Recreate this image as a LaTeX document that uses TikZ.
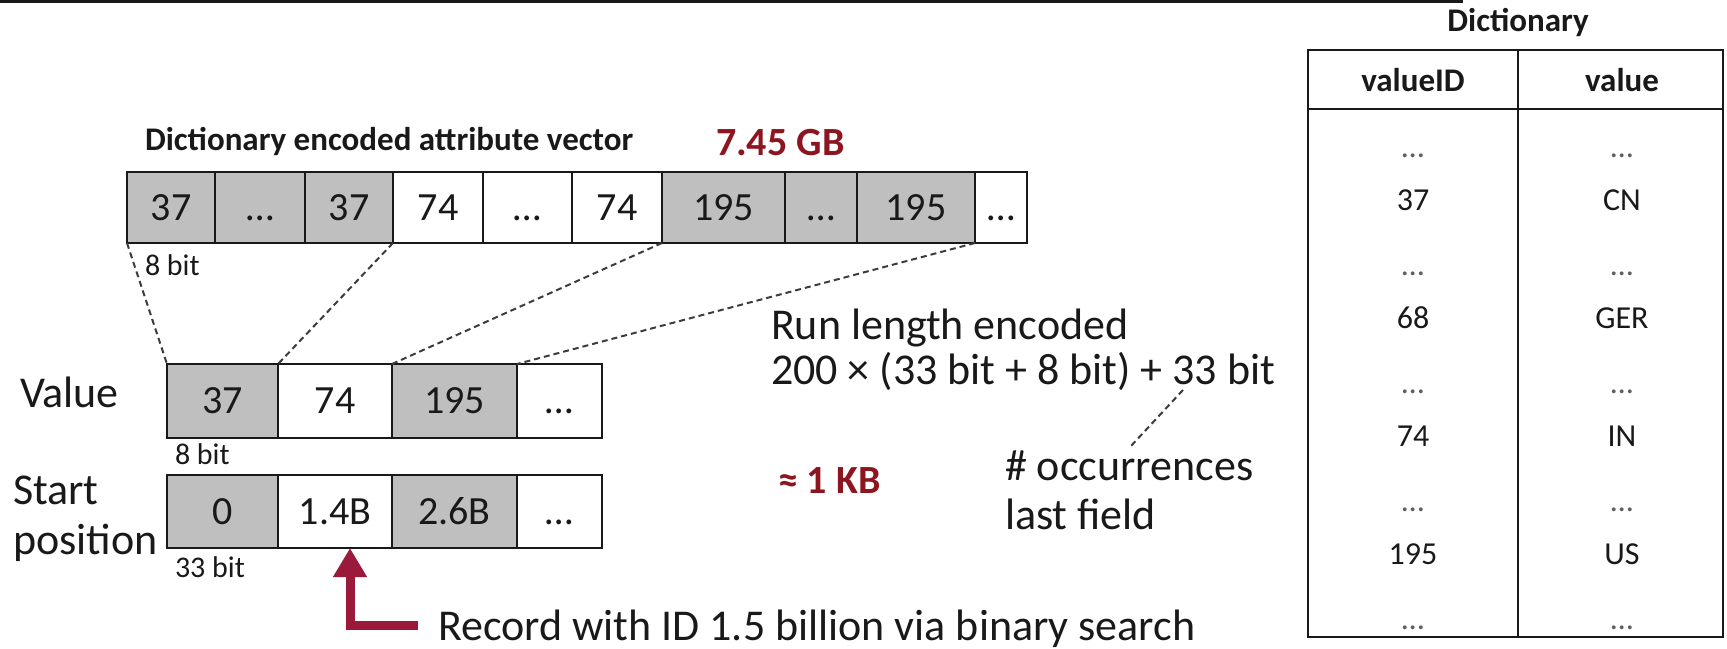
\documentclass[tikz,border=0pt]{standalone}
\usepackage{fontspec}
\setmainfont{Carlito}
\usetikzlibrary{arrows.meta}
\definecolor{cellgray}{RGB}{191,191,191}
\definecolor{darkred}{RGB}{140,22,32}
\definecolor{arrowred}{RGB}{155,26,60}
\definecolor{ink}{RGB}{25,25,25}
\begin{document}
\begin{tikzpicture}[x=1pt,y=-1pt,
  every node/.style={inner sep=0pt, outer sep=0pt, text=ink},
  fs/.style={font=\fontsize{#1}{#1}\selectfont},
  fsb/.style={font=\fontsize{#1}{#1}\selectfont\bfseries},
  wcell/.style={draw=ink, line width=2.5pt, fill=white, fs=40, text height=25pt, text depth=0pt, minimum height=71pt},
  gcell/.style={wcell, fill=cellgray},
  lbl/.style={anchor=base west, fs=44},
  small/.style={anchor=base west, fs=30},
  redlbl/.style={anchor=base west, fsb=40, text=darkred},
  dashline/.style={draw=ink!85, line width=2pt, dash pattern=on 6pt off 4pt},
  tabline/.style={draw=ink, line width=2pt},
  tabtxt/.style={fs=32, text height=20pt, text depth=0pt, anchor=center},
  tabdots/.style={tabtxt, text=ink!70},
  tabhead/.style={fsb=33, text height=21pt, text depth=0pt, anchor=center},
  recarrow/.style={draw=arrowred, line width=9pt, -{Triangle[width=32pt,length=29pt]}}
]
\useasboundingbox (0,0) rectangle (1727,648);

% top frame remnant
\draw[line width=3pt, ink] (0,1.5) -- (1461,1.5) -- (1461,0);

% title of attribute vector
\node[anchor=base west, fsb=33] (avtitle) at (145,150) {Dictionary encoded attribute vector};
\node[redlbl] (size1) at (716,155) {7.45 GB};

% attribute vector
\node[gcell, minimum width=88pt]  (t1)  at (171,207.5)   {37};
\node[gcell, minimum width=90pt]  (t2)  at (260,207.5)   {…};
\node[gcell, minimum width=88pt]  (t3)  at (349,207.5)   {37};
\node[wcell, minimum width=90pt]  (t4)  at (438,207.5)   {74};
\node[wcell, minimum width=89pt]  (t5)  at (527.5,207.5) {…};
\node[wcell, minimum width=90pt]  (t6)  at (617,207.5)   {74};
\node[gcell, minimum width=123pt] (t7)  at (723.5,207.5) {195};
\node[gcell, minimum width=72pt]  (t8)  at (821,207.5)   {…};
\node[gcell, minimum width=118pt] (t9)  at (916,207.5)   {195};
\node[wcell, minimum width=52pt]  (t10) at (1001,207.5)  {…};
\node[small] (bit8a) at (145,275) {8 bit};

% value vector
\node[gcell, minimum width=111pt, minimum height=74pt] (v1) at (222.5,401) {37};
\node[wcell, minimum width=114pt, minimum height=74pt] (v2) at (335,401)   {74};
\node[gcell, minimum width=125pt, minimum height=74pt] (v3) at (454.5,401) {195};
\node[wcell, minimum width=85pt,  minimum height=74pt] (v4) at (559.5,401) {…};
\node[lbl] (vallbl) at (20,407) {Value};
\node[small] (bit8b) at (175,464) {8 bit};

% start position vector
\node[gcell, minimum width=111pt, minimum height=73pt] (s1) at (222.5,511.5) {0};
\node[wcell, minimum width=114pt, minimum height=73pt] (s2) at (335,511.5)   {1.4B};
\node[gcell, minimum width=125pt, minimum height=73pt] (s3) at (454.5,511.5) {2.6B};
\node[wcell, minimum width=85pt,  minimum height=73pt] (s4) at (559.5,511.5) {…};
\node[lbl] (startlbl) at (13,504) {Start};
\node[lbl] (poslbl) at (13,554) {position};
\node[small] (bit33) at (175,577) {33 bit};

% dashed mapping lines
\draw[dashline] (t1.south west) -- (v1.north west);
\draw[dashline] (t3.south east) -- (v1.north east);
\draw[dashline] (t6.south east) -- (v2.north east);
\draw[dashline] (t9.south east) -- (v3.north east);

% run length text
\node[lbl] (rle1) at (771,339) {Run length encoded};
\node[lbl] (rle2) at (771,384) {200 × (33 bit + 8 bit) + 33 bit};
\node[redlbl] (size2) at (778,493) {≈ 1 KB};
\node[lbl] (occ1) at (1005,480) {\# occurrences};
\node[lbl] (occ2) at (1005,529) {last field};
\coordinate (occfrom) at (1183,390);
\coordinate (occto) at (1131,446);
\draw[dashline] (occfrom) -- (occto);

% record arrow
\node[lbl] (rec) at (438,640) {Record with ID 1.5 billion via binary search};
\coordinate (arrstart) at (418,625);
\coordinate (arrcorner) at (350,625);
\draw[recarrow] (arrstart) -- (arrcorner) -- (arrcorner |- s2.south);

% dictionary table
\node[fsb=33, text height=21pt, text depth=0pt] (dtitle) at (1518,21) {Dictionary};
\node[tabline, minimum width=415pt, minimum height=587pt] (dict) at (1515.5,343.5) {};
\coordinate (hdrl) at (1308,109);
\draw[tabline] (hdrl) -- (hdrl -| dict.east);
\coordinate (divt) at (1518,50);
\draw[tabline] (divt) -- (divt |- dict.south);
\node[tabhead] (h1) at (1413,81) {valueID};
\node[tabhead] (h2) at (1622,81) {value};
\foreach \y/\a/\b [count=\i] in {200/37/CN, 318/68/GER, 436/74/IN, 554/195/US}{
  \node[tabtxt] (ka\i) at (1413,\y) {\a};
  \node[tabtxt] (kb\i) at (1622,\y) {\b};
}
\foreach \y [count=\i] in {147,265,383,501,619}{
  \node[tabdots] (da\i) at (1413,\y) {…};
  \node[tabdots] (db\i) at (1622,\y) {…};
}
\end{tikzpicture}
\end{document}
